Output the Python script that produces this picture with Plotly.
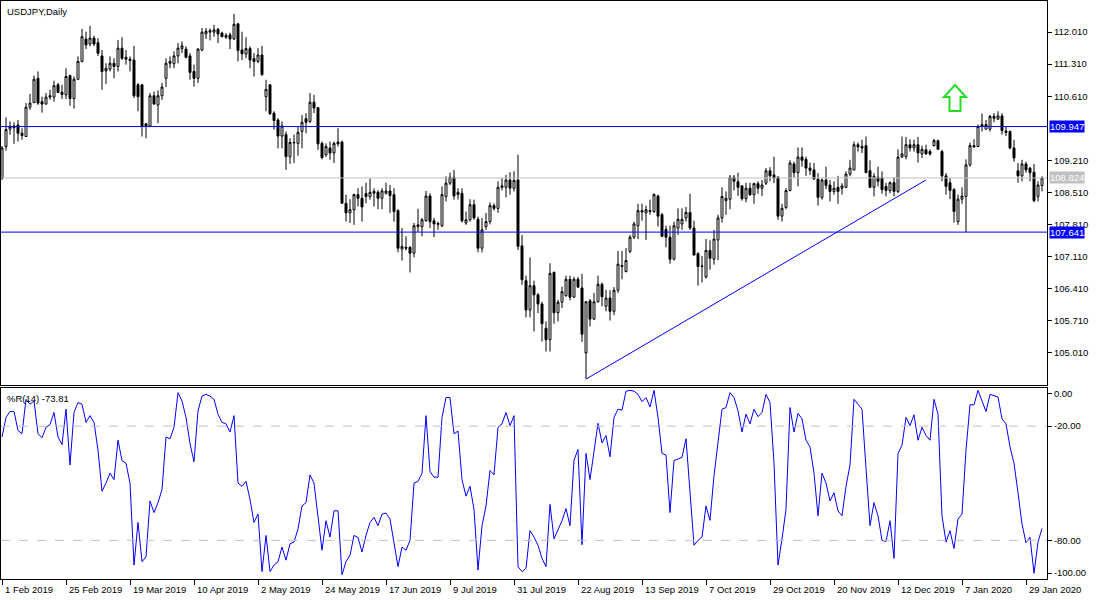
import plotly.graph_objects as go

# USDJPY daily candles, one per trading day from 1 Feb 2019
open_ = [
    108.82, 109.51, 109.89, 109.96, 109.98, 109.80, 109.73, 110.37, 110.47, 111.00,
    110.49, 110.44, 110.59, 110.59, 110.86, 110.70, 110.64, 111.06, 110.56, 110.98,
    111.37, 111.86, 111.75, 111.88, 111.78, 111.49, 111.16, 111.20, 111.33, 111.26,
    111.66, 111.46, 111.42, 111.40, 110.86, 110.86, 110.01, 109.96, 110.62, 110.42,
    110.62, 111.00, 111.33, 111.32, 111.49, 111.65, 111.64, 111.49, 111.15, 111.00,
    111.62, 111.97, 112.01, 112.01, 112.07, 111.99, 111.94, 111.95, 111.86, 112.19,
    111.62, 111.53, 111.65, 111.43, 111.37, 111.51, 110.60, 110.86, 110.24, 110.09,
    109.74, 109.77, 109.29, 109.59, 109.58, 109.84, 110.12, 110.06, 110.48, 110.36,
    109.58, 109.33, 109.48, 109.37, 109.61, 109.61, 108.27, 108.06, 108.13, 108.46,
    108.38, 108.48, 108.42, 108.49, 108.51, 108.38, 108.49, 108.54, 108.46, 108.11,
    107.27, 107.31, 107.31, 107.18, 107.76, 107.76, 107.89, 108.43, 107.89, 107.81,
    107.78, 108.42, 108.71, 108.84, 108.46, 108.49, 107.84, 107.91, 108.24, 107.92,
    107.29, 107.76, 107.87, 108.22, 108.16, 108.62, 108.62, 108.78, 108.60, 108.78,
    107.34, 106.58, 105.94, 106.47, 106.27, 106.07, 105.54, 105.29, 106.76, 105.88,
    106.11, 106.25, 106.61, 106.22, 106.61, 106.42, 105.00, 106.14, 105.74, 106.12,
    106.50, 106.02, 106.20, 105.91, 106.37, 106.91, 106.78, 107.22, 107.53, 107.78,
    108.08, 108.06, 108.09, 108.09, 108.43, 108.02, 107.70, 107.53, 107.05, 107.73,
    107.82, 107.95, 108.07, 107.73, 107.17, 106.89, 106.66, 107.24, 107.05, 107.47,
    107.95, 108.33, 108.36, 108.84, 108.74, 108.65, 108.37, 108.60, 108.46, 108.70,
    108.60, 108.71, 108.98, 108.89, 108.84, 107.99, 108.18, 108.55, 109.13, 108.94,
    109.28, 109.23, 109.04, 109.00, 108.80, 108.40, 108.78, 108.67, 108.53, 108.62,
    108.60, 108.62, 108.91, 109.00, 109.55, 109.51, 109.53, 108.98, 108.62, 108.84,
    108.83, 108.64, 108.55, 108.72, 108.53, 109.28, 109.29, 109.55, 109.48, 109.55,
    109.35, 109.44, 109.40, 109.53, 109.64, 109.40, 108.87, 108.72, 108.57, 107.87,
    108.36, 108.42, 109.11, 109.50, 109.51, 109.95, 109.89, 109.89, 110.17, 110.11,
    110.18, 109.85, 109.84, 109.48, 108.98, 108.87, 109.13, 109.04, 108.95, 108.42,
    108.66,
]
high = [
    109.52, 110.15, 110.06, 110.04, 110.09, 109.91, 110.46, 110.66, 111.06, 111.15,
    110.60, 110.68, 110.75, 110.95, 110.90, 110.86, 111.22, 111.08, 111.04, 111.48,
    112.08, 112.02, 112.15, 111.93, 111.88, 111.62, 111.33, 111.48, 111.44, 111.84,
    111.90, 111.62, 111.48, 111.71, 110.90, 110.87, 110.02, 110.68, 110.71, 110.74,
    110.90, 111.44, 111.48, 111.59, 111.77, 111.81, 111.70, 111.55, 111.30, 111.66,
    112.10, 112.10, 112.09, 112.17, 112.10, 112.02, 111.99, 112.00, 112.41, 112.21,
    112.02, 111.90, 111.70, 111.55, 111.66, 111.71, 110.97, 110.87, 110.28, 110.13,
    110.06, 109.84, 109.69, 109.77, 109.95, 110.20, 110.24, 110.68, 110.64, 110.37,
    109.62, 109.58, 109.62, 109.62, 109.91, 109.64, 108.46, 108.36, 108.48, 108.60,
    108.64, 108.72, 108.81, 108.60, 108.56, 108.60, 108.72, 108.67, 108.60, 108.14,
    107.73, 107.55, 107.33, 107.84, 108.15, 107.95, 108.54, 108.49, 107.95, 107.87,
    108.64, 108.86, 108.94, 109.00, 108.60, 108.60, 108.09, 108.36, 108.35, 107.98,
    107.95, 108.06, 108.29, 108.27, 108.75, 108.82, 108.89, 108.95, 108.97, 109.33,
    107.58, 106.69, 107.09, 106.58, 106.31, 106.12, 105.69, 106.96, 106.78, 106.16,
    106.45, 106.69, 106.69, 106.66, 106.66, 106.73, 106.13, 106.18, 106.31, 106.69,
    106.54, 106.38, 106.37, 106.44, 107.23, 107.23, 107.29, 107.58, 107.87, 108.26,
    108.26, 108.22, 108.35, 108.49, 108.46, 108.06, 107.78, 107.78, 107.87, 108.16,
    108.16, 108.19, 108.48, 107.89, 107.20, 107.12, 107.49, 107.46, 107.69, 108.02,
    108.62, 108.53, 108.89, 108.89, 108.94, 108.67, 108.72, 108.72, 108.72, 108.75,
    108.78, 109.04, 109.06, 109.29, 108.86, 108.26, 108.60, 109.21, 109.18, 109.49,
    109.49, 109.29, 109.16, 109.15, 108.93, 108.82, 109.07, 108.78, 108.75, 108.87,
    108.71, 108.97, 109.22, 109.62, 109.60, 109.66, 109.73, 109.21, 108.93, 109.07,
    108.97, 108.72, 108.75, 108.84, 109.45, 109.73, 109.72, 109.67, 109.66, 109.72,
    109.53, 109.55, 109.45, 109.68, 109.66, 109.44, 108.93, 108.82, 108.60, 108.46,
    108.62, 109.23, 109.60, 109.67, 109.99, 110.23, 110.09, 110.20, 110.24, 110.28,
    110.24, 109.95, 109.86, 109.66, 109.15, 109.22, 109.18, 109.06, 109.13, 108.75,
    108.86,
]
low = [
    108.78, 109.42, 109.77, 109.57, 109.62, 109.66, 109.72, 110.31, 110.46, 110.42,
    110.25, 110.42, 110.53, 110.49, 110.68, 110.55, 110.55, 110.40, 110.34, 110.97,
    111.35, 111.64, 111.70, 111.70, 111.49, 110.75, 110.88, 111.15, 111.00, 111.15,
    111.40, 111.30, 111.15, 110.57, 110.28, 109.73, 109.69, 109.95, 110.42, 110.02,
    110.53, 110.81, 111.22, 111.22, 111.33, 111.55, 111.44, 110.97, 110.82, 110.90,
    111.59, 111.86, 111.83, 111.91, 111.77, 111.90, 111.86, 111.64, 111.84, 111.37,
    111.40, 111.44, 111.22, 111.04, 111.33, 111.06, 110.28, 110.20, 109.88, 109.47,
    109.47, 109.00, 109.13, 109.15, 109.31, 109.47, 109.80, 110.02, 110.24, 109.44,
    109.23, 109.28, 109.22, 109.15, 109.51, 108.26, 107.87, 107.84, 107.80, 108.20,
    107.87, 108.27, 108.35, 108.20, 108.14, 108.14, 108.46, 108.06, 107.87, 107.20,
    107.02, 107.24, 106.76, 107.09, 107.64, 107.55, 107.87, 107.73, 107.53, 107.69,
    107.75, 108.31, 108.67, 108.35, 108.35, 107.85, 107.80, 107.87, 107.91, 107.20,
    107.20, 107.69, 107.81, 108.11, 108.06, 108.55, 108.40, 108.46, 108.53, 107.25,
    106.49, 105.78, 105.78, 105.47, 105.87, 105.25, 105.03, 105.03, 105.64, 105.69,
    105.98, 106.23, 106.15, 106.20, 106.42, 105.24, 104.43, 105.58, 105.72, 106.10,
    106.02, 105.91, 105.71, 105.83, 106.31, 106.61, 106.76, 107.18, 107.49, 107.49,
    107.89, 107.47, 108.02, 108.06, 107.76, 107.53, 107.31, 106.95, 107.02, 107.58,
    107.69, 107.87, 107.69, 107.13, 106.47, 106.54, 106.63, 106.82, 106.93, 107.03,
    107.85, 108.02, 108.14, 108.55, 108.43, 108.33, 108.29, 108.43, 108.26, 108.48,
    108.43, 108.67, 108.75, 108.71, 107.91, 107.87, 108.14, 108.53, 108.84, 108.64,
    109.07, 108.87, 108.89, 108.78, 108.22, 108.35, 108.58, 108.31, 108.46, 108.26,
    108.46, 108.60, 108.86, 108.99, 109.40, 109.37, 108.93, 108.60, 108.42, 108.64,
    108.48, 108.42, 108.49, 108.42, 108.49, 109.26, 109.23, 109.40, 109.40, 109.16,
    109.26, 109.33, 109.31, 109.51, 109.44, 108.75, 108.46, 108.36, 107.85, 107.80,
    108.26, 107.64, 109.07, 109.48, 109.50, 109.84, 109.88, 109.84, 110.04, 110.09,
    109.77, 109.74, 109.45, 109.18, 108.72, 108.75, 108.94, 108.75, 108.29, 108.31,
    108.53,
]
close = [
    109.48, 109.88, 109.95, 109.92, 109.80, 109.75, 110.37, 110.46, 110.98, 110.46,
    110.44, 110.59, 110.62, 110.84, 110.69, 110.65, 111.04, 110.56, 110.98, 111.37,
    111.91, 111.73, 111.88, 111.75, 111.55, 111.15, 111.22, 111.33, 111.26, 111.66,
    111.44, 111.42, 111.39, 110.62, 110.60, 109.95, 109.96, 110.62, 110.44, 110.62,
    110.81, 111.33, 111.37, 111.49, 111.66, 111.71, 111.46, 111.13, 111.00, 111.64,
    112.01, 112.03, 112.04, 112.06, 111.97, 111.91, 111.90, 111.86, 112.18, 111.61,
    111.54, 111.65, 111.40, 111.37, 111.51, 111.08, 110.76, 110.23, 110.08, 109.74,
    109.96, 109.29, 109.60, 109.60, 109.82, 110.04, 110.04, 110.48, 110.35, 109.57,
    109.27, 109.51, 109.37, 109.58, 109.57, 108.27, 108.06, 108.13, 108.46, 108.38,
    108.19, 108.42, 108.51, 108.53, 108.38, 108.54, 108.54, 108.44, 108.09, 107.29,
    107.33, 107.29, 107.18, 107.78, 107.80, 107.91, 108.43, 107.87, 107.82, 107.83,
    108.46, 108.71, 108.84, 108.43, 108.51, 107.89, 107.91, 108.24, 107.95, 107.29,
    107.69, 107.87, 108.22, 108.16, 108.62, 108.65, 108.78, 108.60, 108.77, 107.33,
    106.60, 105.94, 106.47, 106.27, 106.07, 105.64, 105.29, 106.74, 105.88, 106.11,
    106.34, 106.61, 106.22, 106.61, 106.44, 105.41, 106.12, 105.74, 106.12, 106.50,
    106.23, 106.20, 105.91, 106.37, 106.94, 106.89, 107.02, 107.53, 107.82, 108.11,
    108.11, 108.13, 108.11, 108.46, 107.99, 107.55, 107.53, 107.05, 107.78, 107.92,
    107.92, 108.07, 107.73, 107.14, 106.89, 106.90, 107.24, 107.07, 107.49, 107.95,
    108.42, 108.38, 108.84, 108.75, 108.62, 108.37, 108.60, 108.46, 108.70, 108.60,
    108.67, 108.98, 108.87, 108.82, 107.99, 108.16, 108.55, 109.15, 108.94, 109.28,
    109.21, 109.04, 108.99, 108.80, 108.40, 108.78, 108.66, 108.53, 108.60, 108.53,
    108.65, 108.91, 109.04, 109.55, 109.50, 109.48, 108.94, 108.62, 108.86, 108.75,
    108.57, 108.55, 108.72, 108.53, 109.28, 109.35, 109.55, 109.48, 109.55, 109.37,
    109.45, 109.35, 109.35, 109.64, 109.45, 108.87, 108.64, 108.55, 108.09, 108.36,
    108.43, 109.11, 109.53, 109.53, 109.95, 109.99, 109.99, 110.17, 110.13, 110.18,
    109.86, 109.82, 109.48, 109.26, 108.87, 109.13, 109.00, 108.94, 108.33, 108.67,
    108.82,
]

# Williams %R(14)
wpr = [
    -25.7, -15.4, -12.3, -12.3, -22.3, -24.0, -5.9, -8.5, -6.8, -24.0,
    -26.1, -20.6, -19.2, -12.8, -25.7, -29.7, -11.1, -40.4, -12.8, -7.6,
    -8.5, -18.0, -14.5, -18.0, -32.6, -54.2, -49.9, -44.7, -48.1, -27.4,
    -38.1, -39.5, -49.9, -93.0, -70.6, -91.2, -88.7, -59.3, -65.4, -60.2,
    -53.3, -25.7, -26.6, -20.6, -2.4, -6.8, -15.4, -29.2, -38.7, -11.9,
    -4.2, -3.3, -4.2, -5.9, -13.7, -18.0, -18.8, -23.1, -14.5, -49.9,
    -51.6, -49.0, -58.5, -70.6, -66.2, -96.4, -77.4, -96.4, -93.0, -91.2,
    -83.5, -90.4, -81.8, -80.9, -74.0, -61.9, -60.2, -45.6, -49.9, -68.8,
    -85.2, -69.7, -78.3, -64.5, -64.5, -98.1, -91.2, -87.8, -77.4, -78.5,
    -86.1, -77.4, -70.6, -67.9, -72.3, -66.2, -65.7, -68.8, -80.9, -93.8,
    -83.5, -85.2, -80.0, -49.9, -49.0, -44.7, -14.5, -43.8, -46.8, -46.8,
    -15.4, -5.0, -5.0, -24.0, -22.6, -48.1, -56.8, -51.6, -63.7, -95.6,
    -72.3, -61.9, -43.3, -45.6, -20.6, -18.8, -12.8, -19.7, -14.5, -93.8,
    -96.4, -94.7, -74.9, -78.3, -82.6, -89.5, -93.8, -61.1, -79.2, -74.0,
    -69.7, -63.3, -72.3, -37.8, -32.3, -82.3, -34.3, -48.1, -32.6, -18.5,
    -28.8, -24.9, -36.1, -15.4, -11.1, -11.6, -1.6, -1.2, -1.6, -3.3,
    -7.1, -5.0, -9.9, -1.2, -15.4, -34.3, -35.2, -65.4, -38.1, -37.4,
    -36.4, -26.6, -53.3, -82.6, -80.0, -78.3, -61.9, -69.5, -46.0, -28.3,
    -11.1, -10.2, -2.4, -5.0, -11.9, -23.1, -13.7, -18.8, -11.1, -15.0,
    -12.8, -3.3, -7.6, -39.5, -93.0, -79.2, -63.7, -10.2, -23.1, -13.3,
    -16.2, -27.4, -30.9, -44.7, -67.1, -44.7, -49.9, -59.3, -55.0, -64.5,
    -67.1, -51.6, -40.4, -5.9, -8.5, -11.1, -42.1, -72.3, -60.2, -67.1,
    -80.0, -80.6, -69.7, -89.5, -34.3, -30.0, -15.4, -19.7, -14.0, -27.4,
    -20.6, -24.9, -27.4, -5.9, -13.7, -67.1, -80.9, -74.9, -84.3, -68.8,
    -66.2, -32.6, -8.8, -8.8, -1.2, -6.8, -12.3, -3.3, -4.2, -4.7,
    -16.2, -18.8, -30.9, -39.5, -55.0, -71.4, -81.2, -78.3, -97.3, -80.9,
    -73.81,
]

date_labels = [
    "1 Feb 2019", "25 Feb 2019", "19 Mar 2019", "10 Apr 2019", "2 May 2019",
    "24 May 2019", "17 Jun 2019", "9 Jul 2019", "31 Jul 2019", "22 Aug 2019",
    "13 Sep 2019", "7 Oct 2019", "29 Oct 2019", "20 Nov 2019", "12 Dec 2019",
    "7 Jan 2020", "29 Jan 2020",
]
bars_per_label = 16

# 109.910 sits under the 109.947 marker in the terminal, so it is left out
price_ticks = [112.010, 111.310, 110.610, 109.210, 108.510,
               107.810, 107.110, 106.410, 105.710, 105.010]
resistance = 109.947
support = 107.641
bid = 108.824
trend_x = [146, 231]
trend_y = [104.43, 108.78]
arrow_bar, arrow_price = 238.25, 110.55
wpr_levels = [-20, -80]
wpr_labels = ["0.00", "-20.00", "-80.00", "-100.00"]

FONT = "Liberation Sans"
BLUE = "#0000ff"
bars = list(range(len(close)))

fig = go.Figure()
fig.add_trace(go.Candlestick(
    x=bars, open=open_, high=high, low=low, close=close,
    xaxis="x2", yaxis="y", whiskerwidth=0,
    increasing=dict(line=dict(color="black", width=1), fillcolor="white"),
    decreasing=dict(line=dict(color="black", width=1), fillcolor="black"),
))
fig.add_trace(go.Scatter(
    x=trend_x, y=trend_y, mode="lines", xaxis="x2", yaxis="y",
    line=dict(color=BLUE, width=1),
))
fig.add_trace(go.Scatter(
    x=bars, y=wpr, mode="lines", xaxis="x", yaxis="y2",
    line=dict(color=BLUE, width=1),
))

axis_common = dict(showgrid=False, zeroline=False, showline=True, mirror=True,
                   linecolor="black", linewidth=1, tickcolor="black")
tick_pos = [k * bars_per_label for k in range(len(date_labels))]

fig.update_layout(
    width=1100, height=600,
    margin=dict(l=1, r=53, t=1, b=21, autoexpand=False),
    paper_bgcolor="white", plot_bgcolor="white",
    showlegend=False,
    font=dict(family=FONT, size=9.5, color="black"),
    xaxis=dict(axis_common, domain=[0, 1], anchor="y2", range=[-0.25, 261.25],
               ticks="outside", ticklen=5, tickvals=tick_pos,
               ticktext=[""] * len(tick_pos), rangeslider=dict(visible=False)),
    xaxis2=dict(axis_common, domain=[0, 1], anchor="y", matches="x",
                showticklabels=False, rangeslider=dict(visible=False)),
    yaxis=dict(axis_common, domain=[0.3348, 1], anchor="x2", side="right",
               range=[104.29, 112.69], ticks="outside", ticklen=4,
               tickvals=price_ticks, ticktext=[f"{v:.3f}" for v in price_ticks]),
    yaxis2=dict(axis_common, domain=[0, 0.3313], anchor="x", side="right",
                range=[-100.3, 0.3], ticks="outside", ticklen=4,
                tickvals=[-2.8, -20, -80, -97.2], ticktext=wpr_labels),
)

# horizontal levels
for level, color in [(resistance, BLUE), (support, BLUE), (bid, "#c0c0c0")]:
    fig.add_shape(type="line", xref="x2 domain", yref="y", x0=0, x1=1,
                  y0=level, y1=level, line=dict(color=color, width=1))
    fig.add_annotation(xref="paper", x=1, xanchor="left", xshift=2,
                       yref="y", y=level, text=f"{level:.3f}", showarrow=False,
                       bgcolor=color, borderpad=0,
                       font=dict(color="white", size=9.5, family=FONT))
for level in wpr_levels:
    fig.add_shape(type="line", xref="x domain", yref="y2", x0=0, x1=1,
                  y0=level, y1=level, line=dict(color="#c0c0c0", width=1, dash="dash"))

# green arrow marker
fig.add_shape(type="path", xref="x2", yref="y",
              xsizemode="pixel", ysizemode="pixel",
              xanchor=arrow_bar, yanchor=arrow_price,
              path="M 0 14 L 11 2 L 5.5 2 L 5.5 -12 L -5.5 -12 L -5.5 2 L -11 2 Z",
              line=dict(color="#22dd22", width=2), fillcolor="white")

# titles
fig.add_annotation(xref="paper", yref="paper", x=0, y=1, xanchor="left", yanchor="top",
                   xshift=4, yshift=-3, text="USDJPY,Daily", showarrow=False)
fig.add_annotation(xref="paper", yref="paper", x=0, y=0.3313, xanchor="left",
                   yanchor="top", xshift=4, yshift=-3, text="%R(14) -73.81",
                   showarrow=False)

# date labels, left aligned at their tick like the terminal does
for pos, lab in zip(tick_pos, date_labels):
    fig.add_annotation(xref="x", yref="paper", x=pos, y=0, xanchor="left",
                       yanchor="top", xshift=1, yshift=-3, text=lab, showarrow=False)

# the page's default body margin would push the chart 8px off the window
fig.write_html("out.html", config={"displayModeBar": False},
               post_script="document.body.style.margin = '0';")
